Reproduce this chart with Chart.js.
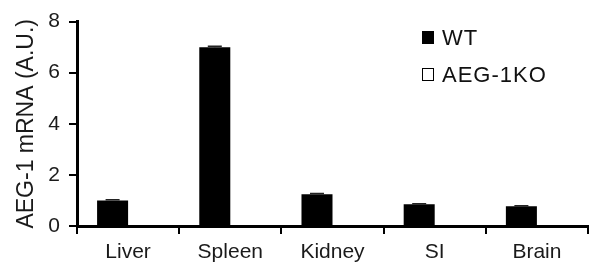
<!DOCTYPE html>
<html>
<head>
<meta charset="utf-8">
<script src="https://cdn.jsdelivr.net/npm/chart.js@4/dist/chart.umd.min.js"></script>
<style>
    body { margin: 0; background: #fff; }
    #wrap { position: relative; width: 590px; height: 266px; }
    #legend { position: absolute; left: 422px; top: 26px; font-family: "Liberation Sans", Arial, sans-serif; font-size: 22px; letter-spacing: 1px; color: #111; }
    .row { display: flex; align-items: flex-start; height: 37px; line-height: 24px; }
    .swatch { box-sizing: border-box; flex: 0 0 12px; width: 12px; height: 13px; margin-top: 5px; margin-right: 8px; border: 1.5px solid #000; }
</style>
</head>
<body>
<div id="wrap">
    <canvas id="chart" width="590" height="266"></canvas>
    <div id="legend"></div>
</div>
<script>
// Tissues and expression values
const tissues = ['Liver', 'Spleen', 'Kidney', 'SI', 'Brain'];
const wtValues = [1.0, 7.0, 1.24, 0.85, 0.77];
const wtErrors = [0.03, 0.04, 0.03, 0.02, 0.02];
const koValues = [0, 0, 0, 0, 0];
const yTicks = [0, 2, 4, 6, 8];

const FONT = '"Liberation Sans", Arial, sans-serif';

// Small error caps on top of the WT bars
const errorBars = {
    id: 'errorBars',
    afterDatasetsDraw(chart) {
        const meta = chart.getDatasetMeta(0);
        const y = chart.scales.y;
        const ctx = chart.ctx;
        ctx.save();
        ctx.strokeStyle = '#222';
        ctx.lineWidth = 1.5;
        meta.data.forEach((bar, i) => {
            const top = y.getPixelForValue(wtValues[i] + wtErrors[i]);
            ctx.beginPath();
            ctx.moveTo(bar.x, bar.y);
            ctx.lineTo(bar.x, top);
            ctx.moveTo(bar.x - 7, top);
            ctx.lineTo(bar.x + 7, top);
            ctx.stroke();
        });
        ctx.restore();
    }
};

const chart = new Chart(document.getElementById('chart'), {
    type: 'bar',
    data: {
        labels: tissues,
        datasets: [
            { label: 'WT', data: wtValues, backgroundColor: '#000', borderWidth: 0 },
            { label: 'AEG-1KO', data: koValues, backgroundColor: '#fff', borderColor: '#000', borderWidth: 0 }
        ]
    },
    options: {
        responsive: false,
        animation: false,
        layout: { padding: { top: 19, right: 2, left: 0, bottom: 0 } },
        datasets: { bar: { categoryPercentage: 0.607, barPercentage: 1 } },
        plugins: { legend: { display: false }, tooltip: { enabled: false } },
        scales: {
            x: {
                offset: true,
                grid: { offset: true, drawOnChartArea: false, tickLength: 8, color: '#000', lineWidth: 2 },
                border: { color: '#000', width: 3 },
                ticks: { color: '#1a1a1a', font: { family: FONT, size: 21 }, padding: 6 },
                afterFit: scale => { scale.height = 40; }
            },
            y: {
                min: 0,
                max: 8,
                afterBuildTicks: scale => { scale.ticks = yTicks.map(v => ({ value: v })); },
                grid: { drawOnChartArea: false, tickLength: 8, color: '#000', lineWidth: 2 },
                border: { color: '#000', width: 3 },
                ticks: { color: '#1a1a1a', font: { family: FONT, size: 21 }, padding: 9 },
                title: {
                    display: true,
                    text: 'AEG-1 mRNA (A.U.)',
                    color: '#1a1a1a',
                    font: { family: FONT, size: 23 },
                    padding: { top: 13, bottom: 0 }
                },
                afterFit: scale => { scale.width = 77; }
            }
        }
    },
    plugins: [errorBars]
});

// Legend built from the datasets
const legend = document.getElementById('legend');
chart.data.datasets.forEach(ds => {
    const row = document.createElement('div');
    row.className = 'row';
    const sw = document.createElement('span');
    sw.className = 'swatch';
    sw.style.background = ds.backgroundColor;
    const txt = document.createElement('span');
    txt.textContent = ds.label;
    row.appendChild(sw);
    row.appendChild(txt);
    legend.appendChild(row);
});
</script>
</body>
</html>
